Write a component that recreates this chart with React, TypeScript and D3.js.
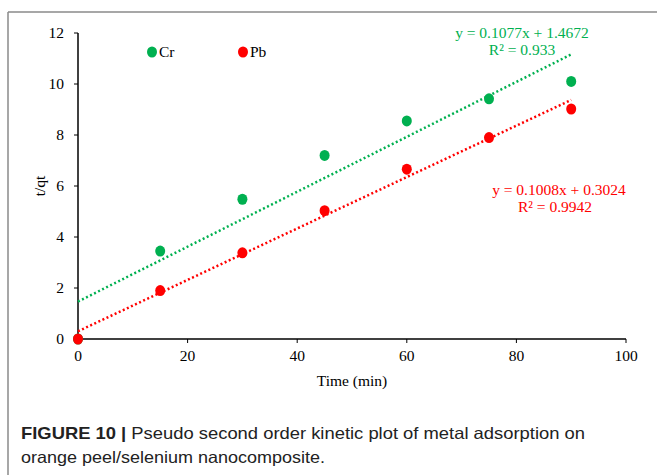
import React from "react";
import * as d3 from "d3";

const times = [0, 15, 30, 45, 60, 75, 90];
const crValues = [0, 3.45, 5.48, 7.2, 8.55, 9.42, 10.1];
const pbValues = [0, 1.9, 3.38, 5.03, 6.66, 7.9, 9.02];
const crFit = { slope: 0.1077, intercept: 1.4672, label: "y = 0.1077x + 1.4672", r2: "R² = 0.933" };
const pbFit = { slope: 0.1008, intercept: 0.3024, label: "y = 0.1008x + 0.3024", r2: "R² = 0.9942" };
const xTicks = [0, 20, 40, 60, 80, 100];
const yTicks = [0, 2, 4, 6, 8, 10, 12];

const GREEN = "#00B050";
const RED = "#FF0000";
const SERIF = "'Liberation Serif', 'Times New Roman', serif";
const SANS = "'Liberation Sans', Arial, sans-serif";
const FS = 15.5;

export default function App() {
  const W = 657, H = 475;
  const x = d3.scaleLinear().domain([0, 100]).range([78, 626]);
  const y = d3.scaleLinear().domain([0, 12]).range([339, 33]);
  const fitLine = (f: { slope: number; intercept: number }) =>
    d3.line<number>().x((t) => x(t)).y((t) => y(f.slope * t + f.intercept))([0, 90]) || "";

  return (
    <svg width={W} height={H} style={{ position: "absolute", left: 0, top: 0, background: "#fff" }}>
      <rect x={0} y={0} width={W} height={H} fill="#fff" />
      {/* frame */}
      <line x1={8} y1={12} x2={W} y2={12} stroke="#8a8a8a" strokeWidth={1.5} />
      <line x1={8} y1={12} x2={8} y2={H} stroke="#8a8a8a" strokeWidth={1.5} />

      {/* axes */}
      <line x1={x(0)} y1={y(12)} x2={x(0)} y2={y(0)} stroke="#000" strokeWidth={1.5} />
      <line x1={x(0)} y1={y(0)} x2={x(100)} y2={y(0)} stroke="#000" strokeWidth={1.5} />
      {yTicks.map((t) => (
        <g key={"y" + t}>
          <line x1={x(0) - 4} x2={x(0)} y1={y(t)} y2={y(t)} stroke="#000" strokeWidth={1} />
          <text x={x(0) - 14} y={y(t)} dy="0.35em" textAnchor="end" fontFamily={SERIF} fontSize={FS} fill="#000">
            {t}
          </text>
        </g>
      ))}
      {xTicks.map((t) => (
        <g key={"x" + t}>
          <line x1={x(t)} x2={x(t)} y1={y(0)} y2={y(0) + 4} stroke="#000" strokeWidth={1} />
          <text x={x(t)} y={y(0) + 22} textAnchor="middle" fontFamily={SERIF} fontSize={FS} fill="#000">
            {t}
          </text>
        </g>
      ))}
      <text x={352} y={386} textAnchor="middle" fontFamily={SERIF} fontSize={FS} fill="#000">
        Time (min)
      </text>
      <text transform={`translate(45,186) rotate(-90)`} textAnchor="middle" fontFamily={SERIF} fontSize={FS} fill="#000">
        t/qt
      </text>

      {/* trend lines */}
      <path d={fitLine(crFit)} stroke={GREEN} strokeWidth={2.5} strokeDasharray="2,2.5" fill="none" />
      <path d={fitLine(pbFit)} stroke={RED} strokeWidth={2.5} strokeDasharray="2,2.5" fill="none" />

      {/* points */}
      {times.map((t, i) => (
        <ellipse key={"c" + i} cx={x(t)} cy={y(crValues[i])} rx={5} ry={5.5} fill={GREEN} />
      ))}
      {times.map((t, i) => (
        <ellipse key={"p" + i} cx={x(t)} cy={y(pbValues[i])} rx={5} ry={5.5} fill={RED} />
      ))}

      {/* legend */}
      <ellipse cx={152} cy={52} rx={5} ry={5.5} fill={GREEN} />
      <text x={159} y={52} dy="0.35em" fontFamily={SERIF} fontSize={FS} fill="#000">Cr</text>
      <ellipse cx={243} cy={52} rx={5} ry={5.5} fill={RED} />
      <text x={250} y={52} dy="0.35em" fontFamily={SERIF} fontSize={FS} fill="#000">Pb</text>

      {/* equations */}
      <text x={522} y={38} textAnchor="middle" fontFamily={SERIF} fontSize={FS} fill={GREEN}>{crFit.label}</text>
      <text x={522} y={55} textAnchor="middle" fontFamily={SERIF} fontSize={FS} fill={GREEN}>{crFit.r2}</text>
      <text x={559} y={195} textAnchor="middle" fontFamily={SERIF} fontSize={FS} fill={RED}>{pbFit.label}</text>
      <text x={555} y={212} textAnchor="middle" fontFamily={SERIF} fontSize={FS} fill={RED}>{pbFit.r2}</text>

      {/* caption */}
      <text x={21} y={439} fontFamily={SANS} fontSize={16.5} fill="#222" textLength={564} lengthAdjust="spacingAndGlyphs">
        <tspan fontWeight="bold">FIGURE 10 | </tspan>
        <tspan>Pseudo second order kinetic plot of metal adsorption on</tspan>
      </text>
      <text x={21} y={463} fontFamily={SANS} fontSize={16.5} fill="#222" textLength={304} lengthAdjust="spacingAndGlyphs">
        orange peel/selenium nanocomposite.
      </text>
    </svg>
  );
}
